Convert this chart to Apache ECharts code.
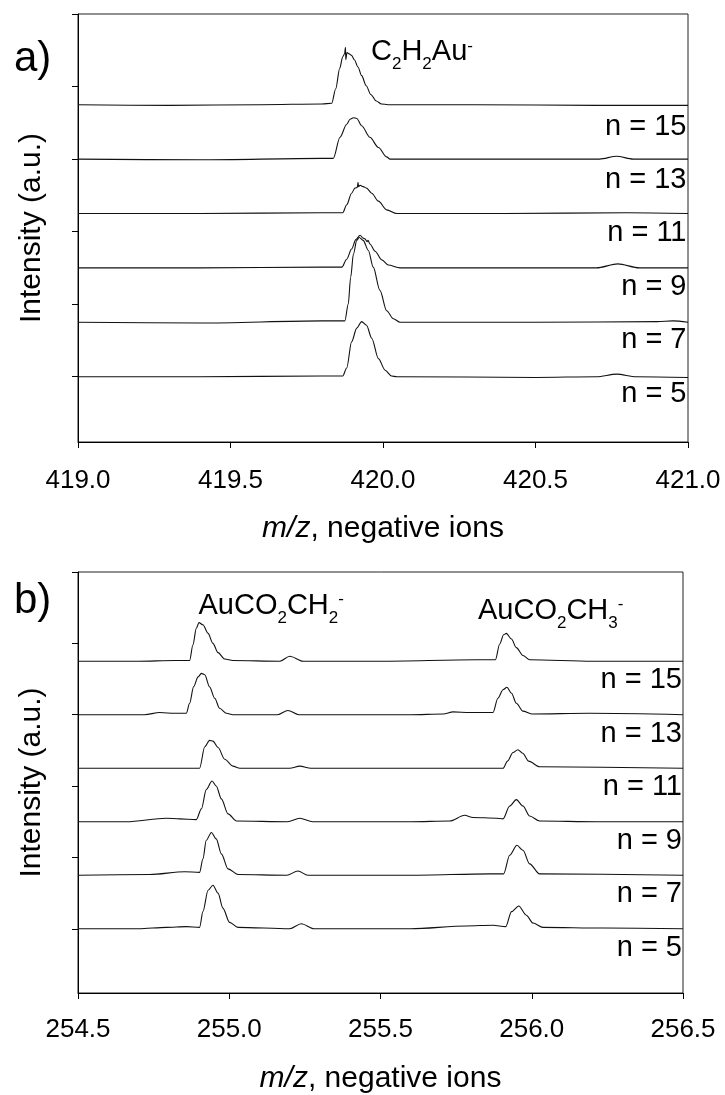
<!DOCTYPE html>
<html>
<head>
<meta charset="utf-8">
<script src="https://cdn.jsdelivr.net/npm/echarts@6/dist/echarts.min.js"></script>
<style>
html,body{margin:0;padding:0;background:#fff;}
#chart{width:725px;height:1095px;}
</style>
</head>
<body>
<div id="chart"></div>
<script>
// ---------- Panel a: m/z 419-421, C2H2Au- ----------
const xTicksA = [419.0, 419.5, 420.0, 420.5, 421.0];
const labelsA = ['n = 15', 'n = 13', 'n = 11', 'n = 9', 'n = 7', 'n = 5'];
const offsetsA = [3.75, 3.0, 2.25, 1.5, 0.75, 0];

const mzA15 = [419.0, 419.3, 419.6, 419.8, 419.832, 419.845, 419.858, 419.868, 419.874, 419.877, 419.878, 419.882, 419.889, 419.897, 419.906, 419.918, 419.930, 419.945, 419.960, 419.978, 419.995, 420.016, 420.3, 420.7, 421.0];
const intA15 = [0, -0.01, 0, 0.01, 0.02, 0.22, 0.5, 0.66, 0.70, 0.79, 0.62, 0.72, 0.70, 0.68, 0.62, 0.52, 0.40, 0.26, 0.14, 0.05, 0.01, 0, 0, -0.01, -0.01];

const mzA13 = [419.0, 419.4, 419.8, 419.837, 419.859, 419.881, 419.892, 419.903, 419.914, 419.930, 419.957, 419.985, 420.012, 420.023, 420.4, 420.71, 420.766, 420.82, 421.0];
const intA13 = [0, -0.01, 0.01, 0.01, 0.30, 0.48, 0.55, 0.57, 0.56, 0.46, 0.30, 0.16, 0.03, 0.0, 0, 0.0, 0.04, 0.0, 0.0];

const mzA11 = [419.0, 419.4, 419.8, 419.868, 419.881, 419.897, 419.908, 419.916, 419.918, 419.920, 419.925, 419.935, 419.946, 419.963, 419.985, 420.012, 420.045, 420.4, 420.8, 421.0];
const intA11 = [0, 0, 0.01, 0.01, 0.12, 0.28, 0.35, 0.36, 0.43, 0.37, 0.39, 0.37, 0.35, 0.28, 0.17, 0.05, 0, 0, 0.01, 0];

const mzA9 = [419.0, 419.4, 419.8, 419.865, 419.881, 419.897, 419.911, 419.925, 419.935, 419.941, 419.948, 419.951, 419.957, 419.974, 419.996, 420.017, 420.056, 420.5, 420.70, 420.77, 420.84, 421.0];
const intA9 = [0, 0, 0.01, 0.01, 0.12, 0.26, 0.39, 0.45, 0.41, 0.40, 0.36, 0.38, 0.33, 0.23, 0.11, 0.04, 0, 0, 0.0, 0.055, 0.0, 0.0];

const mzA7 = [419.0, 419.4, 419.8, 419.875, 419.886, 419.894, 419.903, 419.914, 419.922, 419.935, 419.952, 419.968, 419.990, 420.012, 420.034, 420.056, 420.5, 420.9, 420.95, 421.0];
const intA7 = [0, -0.01, 0.02, 0.02, 0.25, 0.62, 0.94, 1.13, 1.17, 1.13, 0.99, 0.76, 0.44, 0.16, 0.05, 0, 0, 0.01, 0.02, 0.0];

const mzA5 = [419.0, 419.4, 419.8, 419.868, 419.881, 419.897, 419.914, 419.930, 419.946, 419.963, 419.985, 420.007, 420.028, 420.045, 420.5, 420.70, 420.766, 420.83, 421.0];
const intA5 = [0, 0, 0.01, 0.01, 0.12, 0.48, 0.67, 0.76, 0.71, 0.53, 0.25, 0.09, 0.01, 0, -0.01, 0, 0.035, 0, -0.01];

// ---------- Panel b: m/z 254.5-256.5, AuCO2CH2- / AuCO2CH3- ----------
const xTicksB = [254.5, 255.0, 255.5, 256.0, 256.5];
const labelsB = ['n = 15', 'n = 13', 'n = 11', 'n = 9', 'n = 7', 'n = 5'];
const offsetsB = [3.75, 3.0, 2.25, 1.5, 0.75, 0];

const mzB15 = [254.5, 254.7, 254.82, 254.869, 254.880, 254.891, 254.900, 254.913, 254.930, 254.946, 254.963, 254.985, 255.012, 255.167, 255.200, 255.244, 255.5, 255.817, 255.880, 255.894, 255.907, 255.916, 255.933, 255.949, 255.971, 255.993, 256.2, 256.5];
const intB15 = [0, 0, 0.01, 0.01, 0.23, 0.46, 0.54, 0.51, 0.39, 0.25, 0.12, 0.03, 0.01, 0.0, 0.07, 0.0, 0, 0.02, 0.02, 0.24, 0.37, 0.39, 0.31, 0.19, 0.08, 0.02, 0.0, 0.0];

const mzB13 = [254.5, 254.72, 254.77, 254.82, 254.858, 254.869, 254.882, 254.897, 254.908, 254.919, 254.935, 254.952, 254.968, 254.991, 255.012, 255.16, 255.194, 255.23, 255.6, 255.707, 255.740, 255.795, 255.872, 255.888, 255.905, 255.918, 255.933, 255.949, 255.971, 256.0, 256.19, 256.5];
const intB13 = [0, 0.0, 0.03, 0.02, 0.02, 0.16, 0.39, 0.53, 0.58, 0.56, 0.39, 0.23, 0.09, 0.02, 0, 0, 0.06, 0, 0, 0.01, 0.04, 0.03, 0.03, 0.23, 0.35, 0.385, 0.30, 0.16, 0.05, 0.01, 0.02, 0];

const mzB11 = [254.5, 254.8, 254.902, 254.919, 254.935, 254.946, 254.963, 254.985, 255.012, 255.035, 255.2, 255.233, 255.27, 255.6, 255.905, 255.92, 255.938, 255.954, 255.97, 255.99, 256.026, 256.5];
const intB11 = [0, 0, 0, 0.30, 0.39, 0.38, 0.29, 0.125, 0.03, 0, 0, 0.03, 0, 0, 0, 0.1, 0.22, 0.26, 0.21, 0.1, 0.02, 0];

const mzB9 = [254.5, 254.66, 254.792, 254.836, 254.891, 254.908, 254.924, 254.943, 254.957, 254.974, 254.996, 255.024, 255.193, 255.233, 255.276, 255.6, 255.729, 255.778, 255.806, 255.883, 255.905, 255.927, 255.949, 255.971, 255.993, 256.026, 256.214, 256.5];
const intB9 = [0, 0, 0.05, 0.04, 0.03, 0.18, 0.45, 0.57, 0.50, 0.32, 0.11, 0.01, 0, 0.05, 0, 0, 0.01, 0.09, 0.06, 0.05, 0.04, 0.22, 0.31, 0.22, 0.08, 0.01, 0, 0];

const mzB7 = [254.5, 254.737, 254.853, 254.902, 254.913, 254.924, 254.941, 254.957, 254.974, 254.996, 255.029, 255.19, 255.227, 255.26, 255.6, 255.861, 255.907, 255.927, 255.951, 255.971, 255.993, 256.026, 256.5];
const intB7 = [0, 0.01, 0.05, 0.04, 0.23, 0.49, 0.60, 0.51, 0.30, 0.09, 0.01, 0, 0.06, 0, 0, 0.02, 0.02, 0.28, 0.42, 0.35, 0.16, 0.02, 0];

const mzB5 = [254.5, 254.7, 254.792, 254.858, 254.902, 254.913, 254.930, 254.946, 254.963, 254.979, 255.001, 255.029, 255.2, 255.238, 255.28, 255.6, 255.784, 255.872, 255.914, 255.933, 255.957, 255.982, 256.004, 256.037, 256.236, 256.5];
const intB5 = [0, 0.0, 0.02, 0.03, 0.02, 0.24, 0.54, 0.61, 0.50, 0.29, 0.09, 0.02, 0, 0.07, 0, 0, 0.04, 0.05, 0.03, 0.24, 0.32, 0.19, 0.08, 0.02, 0.01, 0];

const yTickValues = [0, 1, 2, 3, 4, 5];

// ---------- build ----------
const FONT = "'Liberation Sans', Arial, Helvetica, sans-serif";
const tracesA = [[mzA15, intA15], [mzA13, intA13], [mzA11, intA11], [mzA9, intA9], [mzA7, intA7], [mzA5, intA5]];
const tracesB = [[mzB15, intB15], [mzB13, intB13], [mzB11, intB11], [mzB9, intB9], [mzB7, intB7], [mzB5, intB5]];

function toPairs(mz, inten, off) {
  return mz.map((m, i) => [m, inten[i] + off]);
}

function xAxisFor(gridIndex, ticks, margin, gap) {
  return {
    type: 'value', gridIndex: gridIndex,
    min: ticks[0], max: ticks[ticks.length - 1], interval: 0.5,
    axisLine: {show: true, onZero: false, lineStyle: {color: '#000', width: 1}},
    axisTick: {show: true, inside: false, length: 6, lineStyle: {color: '#000', width: 1}},
    axisLabel: {show: true, margin: margin, color: '#000', fontSize: 26, fontFamily: FONT,
      formatter: v => v.toFixed(1)},
    splitLine: {show: false},
    name: '{i|m/z}, negative ions',
    nameLocation: 'middle', nameGap: gap,
    nameTextStyle: {color: '#000', fontSize: 30, fontFamily: FONT,
      rich: {i: {fontStyle: 'italic', fontSize: 30, fontFamily: FONT, color: '#000'}}}
  };
}
function yAxisFor(gridIndex) {
  return {
    type: 'value', gridIndex: gridIndex, min: -0.9, max: 5,
    axisLine: {show: true, onZero: false, lineStyle: {color: '#000', width: 1}},
    axisTick: {show: true, inside: false, length: 6, customValues: yTickValues, lineStyle: {color: '#000', width: 1}},
    axisLabel: {show: false},
    splitLine: {show: false},
    name: 'Intensity (a.u.)', nameLocation: 'middle', nameGap: 31,
    nameTextStyle: {color: '#000', fontSize: 30, fontFamily: FONT}
  };
}

const series = [];
tracesA.forEach((t, k) => series.push({
  type: 'line', xAxisIndex: 0, yAxisIndex: 0, data: toPairs(t[0], t[1], offsetsA[k]),
  showSymbol: false, smooth: 0.3, smoothMonotone: 'x',
  lineStyle: {color: '#111', width: 1.1}, silent: true
}));
tracesB.forEach((t, k) => series.push({
  type: 'line', xAxisIndex: 1, yAxisIndex: 1, data: toPairs(t[0], t[1], offsetsB[k]),
  showSymbol: false, smooth: 0.3, smoothMonotone: 'x',
  lineStyle: {color: '#111', width: 1.1}, silent: true
}));

const chemRich = {
  m: {fontSize: 29, fontFamily: FONT, color: '#000'},
  sub: {fontSize: 17, fontFamily: FONT, color: '#000', padding: [25, 0, 0, 0]},
  sup: {fontSize: 17, fontFamily: FONT, color: '#000', padding: [0, 0, 12, 0]}
};

const graphics = [];
graphics.push({type: 'text', left: 14, top: 38, style: {text: 'a)', font: '42px ' + FONT, fill: '#000'}});
graphics.push({type: 'text', left: 14, top: 580, style: {text: 'b)', font: '42px ' + FONT, fill: '#000'}});
graphics.push({type: 'text', x: 371, y: 52, style: {text: '{m|C}{sub|2}{m|H}{sub|2}{m|Au}{sup|-}', rich: chemRich, verticalAlign: 'middle', align: 'left'}});
graphics.push({type: 'text', x: 198.5, y: 605.5, style: {text: '{m|AuCO}{sub|2}{m|CH}{sub|2}{sup|-}', rich: chemRich, verticalAlign: 'middle', align: 'left'}});
graphics.push({type: 'text', x: 478, y: 610.5, style: {text: '{m|AuCO}{sub|2}{m|CH}{sub|3}{sup|-}', rich: chemRich, verticalAlign: 'middle', align: 'left'}});
labelsA.forEach((s, k) => graphics.push({type: 'text', x: 686.5, y: 126.5 + 53.4 * k,
  style: {text: s, font: '29px ' + FONT, fill: '#000', align: 'right', verticalAlign: 'middle'}}));
labelsB.forEach((s, k) => graphics.push({type: 'text', x: 682, y: 680 + 53.5 * k,
  style: {text: s, font: '29px ' + FONT, fill: '#000', align: 'right', verticalAlign: 'middle'}}));

const chart = echarts.init(document.getElementById('chart'), null, {renderer: 'canvas'});
chart.setOption({
  animation: false,
  backgroundColor: '#fff',
  grid: [
    {left: 78, top: 14, width: 610, height: 428, show: true, borderColor: '#222', borderWidth: 1, containLabel: false},
    {left: 78, top: 572, width: 605, height: 424, show: true, borderColor: '#222', borderWidth: 1, containLabel: false}
  ],
  xAxis: [xAxisFor(0, xTicksA, 26, 72), xAxisFor(1, xTicksB, 24, 71)],
  yAxis: [yAxisFor(0), yAxisFor(1)],
  series: series,
  graphic: graphics
});
</script>
</body>
</html>
